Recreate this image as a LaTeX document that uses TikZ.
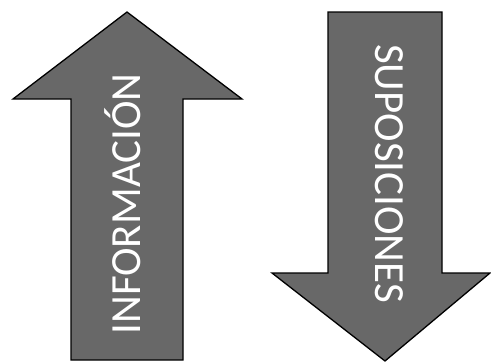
\documentclass[tikz,border=0pt]{standalone}
\usepackage{fontspec}
\setmainfont{Carlito}
\usetikzlibrary{positioning}
\definecolor{arrowgray}{RGB}{104,104,104}
\tikzset{
  blockarrow/.style={draw=black, line width=1.3pt, fill=arrowgray, line join=miter},
  lbl/.style={text=white, inner sep=0pt, text height=27pt, text depth=0pt,
    font=\fontsize{43}{50}\selectfont}
}

\begin{document}
\begin{tikzpicture}[x=1pt,y=-1pt]
\useasboundingbox (0,0) rectangle (491,362);
% up arrow
\draw[blockarrow] (127,12) -- (242,99) -- (183,99) -- (183,360) -- (71,360)
  -- (71,99) -- (13,99) -- cycle;
\node[lbl, rotate=90] (info) at (127,204) {INFORMACIÓN};
% down arrow
\draw[blockarrow] (328,12) -- (442,12) -- (442,273) -- (490,273) -- (385,361)
  -- (272,273) -- (328,273) -- cycle;
\node[lbl, rotate=-90] (supo) at (389,173.5) {SUPOSICIONES};
\end{tikzpicture}
\end{document}
